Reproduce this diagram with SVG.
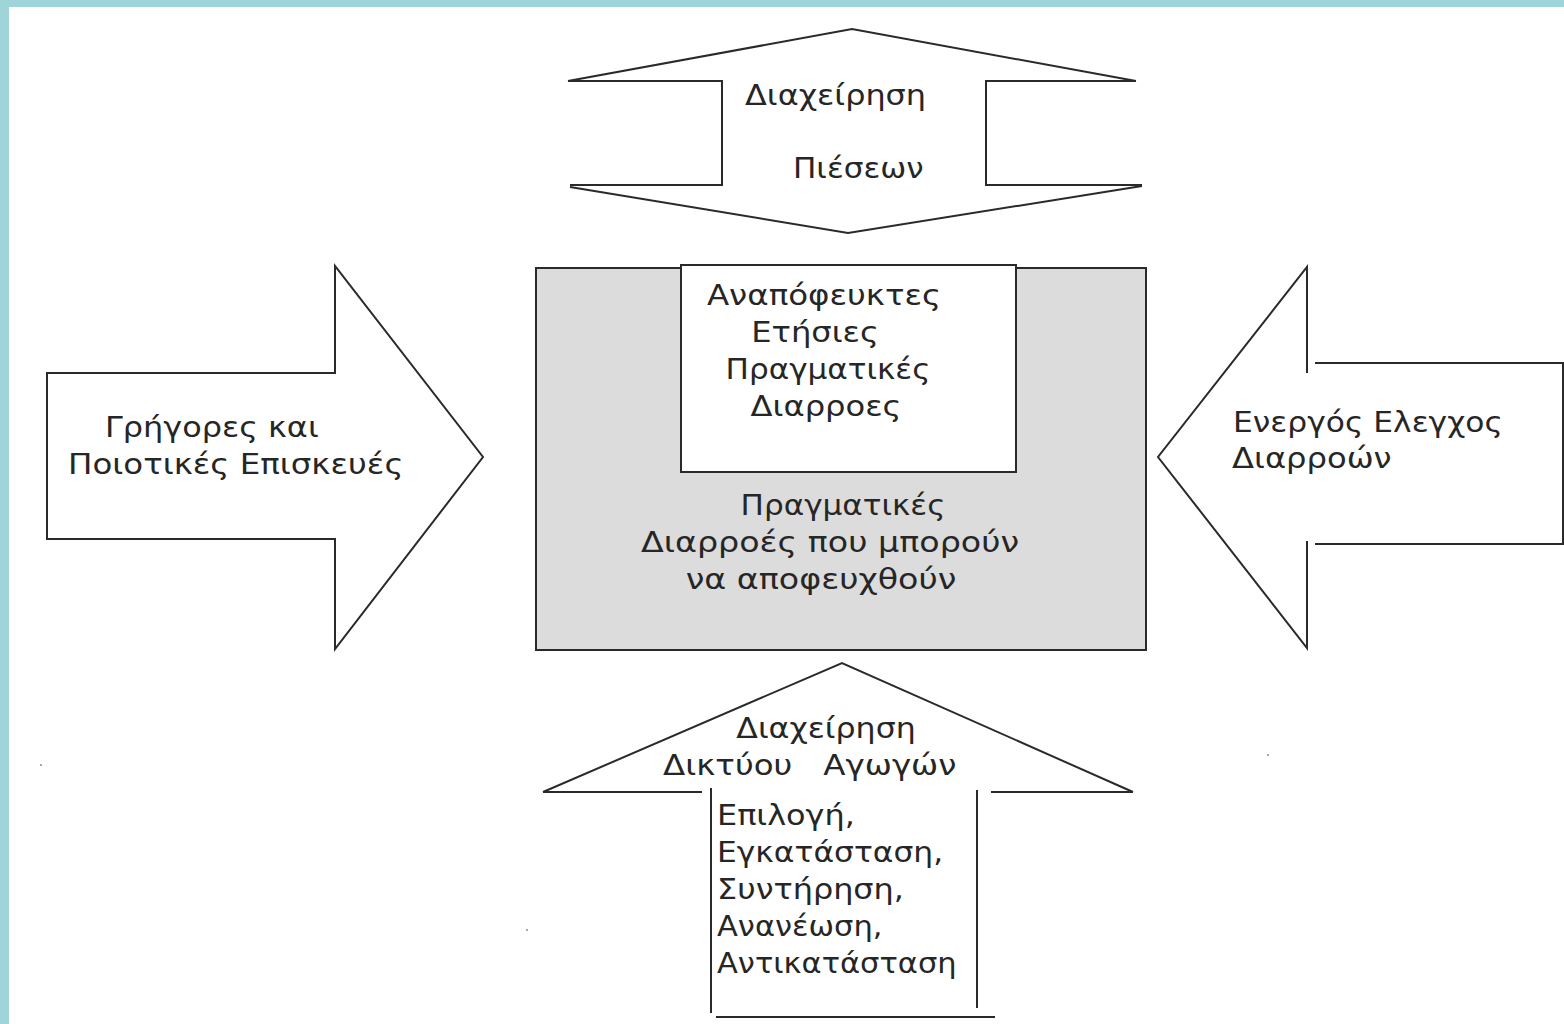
<svg xmlns="http://www.w3.org/2000/svg" width="1564" height="1024" viewBox="0 0 1564 1024">
<style>
.ln{fill:none;stroke:#2a2a2a;stroke-width:2;stroke-linejoin:miter}
.wf{fill:#ffffff;stroke:none}
.t{font-family:"DejaVu Sans","Liberation Sans",sans-serif;font-size:28px;fill:#262626}
.c{text-anchor:middle}
</style>
<rect x="0" y="0" width="1564" height="1024" fill="#ffffff"/>
<rect x="0" y="0" width="1564" height="7" fill="#9fd4d8"/>
<rect x="0" y="0" width="9" height="1024" fill="#9fd4d8"/>

<g id="top-arrow">
  <polygon class="wf" points="568,81 852,29 1136,81 986,81 986,185 1142,185 848,233 570,186 722,185 722,81"/>
  <polyline class="ln" points="568,81 852,29 1136,81"/>
  <polyline class="ln" points="568,81 722,81 722,185 570,185"/>
  <polyline class="ln" points="1136,81 986,81 986,185 1142,185"/>
  <polyline class="ln" points="570,187 848,233 1142,186"/>
  <text class="t" transform="translate(745,105) scale(1.14,1)">Διαχείρηση</text>
  <text class="t" transform="translate(793,178) scale(1.11,1)">Πιέσεων</text>
</g>

<g id="center-box">
  <rect x="536" y="268" width="610" height="382" fill="#dcdcdc" stroke="#2a2a2a" stroke-width="2"/>
  <text class="t c" transform="translate(843,515) scale(1.11,1)">Πραγματικές</text>
  <text class="t c" transform="translate(830,552) scale(1.19,1)">Διαρροές που μπορούν</text>
  <text class="t c" transform="translate(821,589) scale(1.19,1)">να αποφευχθούν</text>
</g>

<g id="inner-box">
  <rect x="681" y="265" width="335" height="207" fill="#ffffff" stroke="#2a2a2a" stroke-width="2"/>
  <text class="t c" transform="translate(824,305) scale(1.16,1)">Αναπόφευκτες</text>
  <text class="t c" transform="translate(815,342) scale(1.15,1)">Ετήσιες</text>
  <text class="t c" transform="translate(828,379) scale(1.11,1)">Πραγματικές</text>
  <text class="t c" transform="translate(826,416) scale(1.15,1)">Διαρροες</text>
</g>

<g id="left-arrow">
  <polygon class="ln" style="fill:#ffffff" points="47,373 335,373 335,266 483,457 335,649 335,539 47,539"/>
  <text class="t" transform="translate(105,437) scale(1.14,1)">Γρήγορες και</text>
  <text class="t" transform="translate(68,474) scale(1.16,1)">Ποιοτικές Επισκευές</text>
</g>

<g id="right-arrow">
  <polygon class="wf" points="1158,457 1307,267 1307,363 1564,363 1564,544 1307,544 1307,648"/>
  <polyline class="ln" points="1307,373 1307,267 1158,457 1307,648 1307,541"/>
  <polyline class="ln" points="1315,363 1563,363 1563,544 1315,544"/>
  <text class="t" transform="translate(1233,432) scale(1.12,1)">Ενεργός Ελεγχος</text>
  <text class="t" transform="translate(1232,468) scale(1.15,1)">Διαρροών</text>
</g>

<g id="bottom-arrow">
  <polygon class="wf" points="543,792 842,663 1133,792 978,792 978,1016 711,1016 711,792"/>
  <polyline class="ln" points="543,792 842,663 1133,792"/>
  <line class="ln" x1="543" y1="792" x2="702" y2="792"/>
  <line class="ln" x1="991" y1="792" x2="1133" y2="792"/>
  <line class="ln" x1="711" y1="788" x2="711" y2="1013"/>
  <line class="ln" x1="977" y1="790" x2="977" y2="1008"/>
  <line class="ln" x1="716" y1="1017" x2="995" y2="1017"/>
  <text class="t c" transform="translate(826,738) scale(1.13,1)">Διαχείρηση</text>
  <text class="t" transform="translate(663,775) scale(1.16,1)" xml:space="preserve">Δικτύου   Αγωγών</text>
  <text class="t" transform="translate(717,825) scale(1.14,1)">Επιλογή,</text>
  <text class="t" transform="translate(717,862) scale(1.12,1)">Εγκατάσταση,</text>
  <text class="t" transform="translate(717,899) scale(1.14,1)">Συντήρηση,</text>
  <text class="t" transform="translate(717,936) scale(1.09,1)">Ανανέωση,</text>
  <text class="t" transform="translate(717,973) scale(1.09,1)">Αντικατάσταση</text>
</g>

<g id="specks" fill="#888888">
  <circle cx="41" cy="765" r="1"/>
  <circle cx="1268" cy="755" r="1"/>
  <circle cx="527" cy="930" r="1"/>
</g>
</svg>
